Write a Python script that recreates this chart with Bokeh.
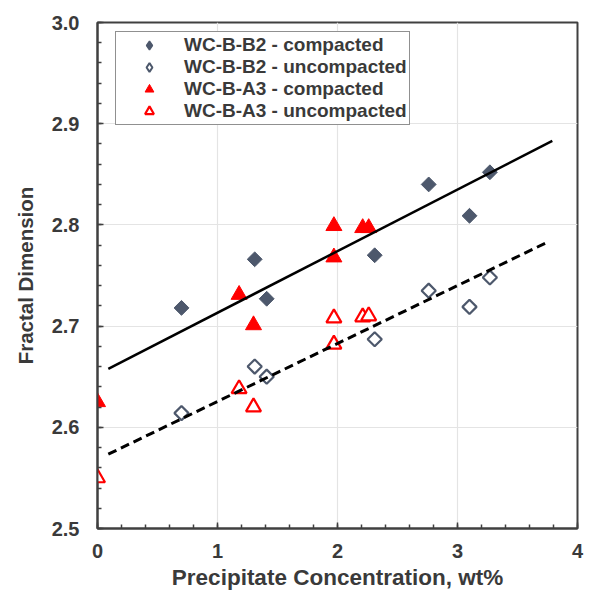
import numpy as np
from bokeh.plotting import figure
from bokeh.models import (Legend, LegendItem, Range1d, SingleIntervalTicker,
                          NumeralTickFormatter)
from bokeh.embed import file_html
from bokeh.resources import INLINE

# Precipitate concentration (wt%) for each sample series
x_b2 = [0.70, 1.31, 1.41, 2.31, 2.76, 3.10, 3.27]
x_a3 = [0.00, 1.18, 1.30, 1.97, 1.97, 2.21, 2.26]

# Fractal dimension per series
b2_compacted = [2.718, 2.766, 2.727, 2.770, 2.840, 2.809, 2.852]
b2_uncompacted = [2.614, 2.660, 2.650, 2.687, 2.735, 2.719, 2.748]
a3_compacted = [2.625, 2.731, 2.701, 2.799, 2.768, 2.797, 2.797]
a3_uncompacted = [2.550, 2.638, 2.620, 2.708, 2.682, 2.709, 2.710]

# Span of the fitted trend lines along x
trend_x_compacted = [0.09, 3.79]
trend_x_uncompacted = [0.09, 3.76]

SLATE = "#4d586c"
RED = "#ff0000"
TEXT = "#3a3a3a"
FONT = "Liberation Sans"

p = figure(width=589, height=594, output_backend="svg", toolbar_location=None,
           x_range=Range1d(0, 4), y_range=Range1d(2.5, 3.0),
           min_border_left=97, min_border_right=12, min_border_top=22,
           min_border_bottom=66)
p.background_fill_color = "white"
p.border_fill_color = "white"
p.outline_line_color = "#404040"
p.outline_line_width = 2

p.xaxis.ticker = SingleIntervalTicker(interval=1, num_minor_ticks=5)
p.yaxis.ticker = SingleIntervalTicker(interval=0.1, num_minor_ticks=5)
p.xaxis.formatter = NumeralTickFormatter(format="0")
p.yaxis.formatter = NumeralTickFormatter(format="0.0")

for ax in (p.xaxis[0], p.yaxis[0]):
    ax.axis_line_color = "#404040"
    ax.axis_line_width = 2
    ax.major_tick_in = 6
    ax.major_tick_out = 0
    ax.minor_tick_in = 4
    ax.minor_tick_out = 0
    ax.major_tick_line_color = "#404040"
    ax.minor_tick_line_color = "#404040"
    ax.major_tick_line_width = 1.5
    ax.minor_tick_line_width = 1.5
    ax.major_label_text_font = FONT
    ax.major_label_text_font_style = "bold"
    ax.major_label_text_font_size = "20px"
    ax.major_label_text_color = TEXT
    ax.axis_label_text_font = FONT
    ax.axis_label_text_font_style = "bold"
    ax.axis_label_text_color = TEXT

p.xaxis.axis_label = "Precipitate Concentration, wt%"
p.xaxis.axis_label_text_font_size = "22.5px"
p.xaxis.major_label_standoff = 15
p.xaxis.axis_label_standoff = 4
p.yaxis.axis_label = "Fractal Dimension"
p.yaxis.axis_label_text_font_size = "20.5px"
p.yaxis.major_label_standoff = 18
p.yaxis.axis_label_standoff = 12

p.xgrid.grid_line_color = "#e4e4e4"
p.ygrid.grid_line_color = "#e4e4e4"
p.xgrid.grid_line_width = 1.2
p.ygrid.grid_line_width = 1.2

# Diamond-shaped legend swatches; drawn first so the turned squares cover them
k1 = p.scatter(x_b2, b2_compacted, marker="diamond", size=8,
               fill_color=SLATE, line_color=SLATE, line_width=1.5)
k2 = p.scatter(x_b2, b2_uncompacted, marker="diamond", size=8,
               fill_color="white", line_color=SLATE, line_width=2)

# Sample markers (diamonds drawn as squares turned by 45 degrees)
p.scatter(x_b2, b2_compacted, marker="square", size=10.5, angle=np.pi / 4,
          fill_color=SLATE, line_color=SLATE, line_width=1)
p.scatter(x_b2, b2_uncompacted, marker="square", size=10, angle=np.pi / 4,
          fill_color="white", line_color=SLATE, line_width=2.2)
r3 = p.scatter(x_a3, a3_compacted, marker="triangle", size=16,
               fill_color=RED, line_color=RED, line_width=1)
r4 = p.scatter(x_a3, a3_uncompacted, marker="triangle", size=15,
               fill_color="white", line_color=RED, line_width=2.2)

# Linear trend of each compaction state, fitted over both samples
xc = np.array(x_b2 + x_a3)
yc = np.array(b2_compacted + a3_compacted)
slope_c, icpt_c = np.polyfit(xc, yc, 1)
yu = np.array(b2_uncompacted + a3_uncompacted)
slope_u, icpt_u = np.polyfit(xc, yu, 1)

tx = np.array(trend_x_compacted)
p.line(tx, icpt_c + slope_c * tx, line_color="black", line_width=2.5)
tu = np.array(trend_x_uncompacted)
p.line(tu, icpt_u + slope_u * tu, line_color="black", line_width=3,
       line_dash="9 5")

legend = Legend(items=[
    LegendItem(label="WC-B-B2 - compacted", renderers=[k1]),
    LegendItem(label="WC-B-B2 - uncompacted", renderers=[k2]),
    LegendItem(label="WC-B-A3 - compacted", renderers=[r3]),
    LegendItem(label="WC-B-A3 - uncompacted", renderers=[r4]),
], location=(18, 403))
legend.label_text_font = FONT
legend.label_text_font_style = "bold"
legend.label_text_font_size = "19px"
legend.label_text_color = TEXT
legend.label_height = 22
legend.glyph_height = 22
legend.glyph_width = 62
legend.label_standoff = 4
legend.padding = 2
legend.spacing = 0
legend.margin = 0
legend.border_line_color = "#222222"
legend.border_line_width = 1.5
legend.background_fill_color = "white"
legend.background_fill_alpha = 1
p.add_layout(legend, "center")

open("out.html", "w").write(file_html(p, INLINE))
